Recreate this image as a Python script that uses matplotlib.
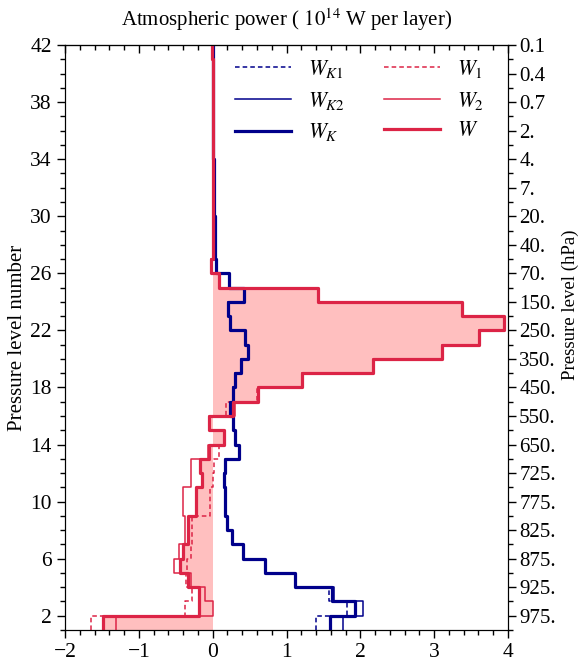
import numpy as np
import matplotlib
matplotlib.use('Agg')
import matplotlib.pyplot as plt
from matplotlib.ticker import MultipleLocator, FixedLocator

plt.rcParams['font.family'] = ['Liberation Serif', 'DejaVu Serif']
plt.rcParams['mathtext.fontset'] = 'stix'

# pressure levels 1..42, values per layer (between level k and k+1)
levels = np.arange(1, 43)
right_ticks = np.arange(2, 43, 2)
hpa_labels = ['975.', '925.', '875.', '825.', '775.', '725.', '650.', '550.', '450.', '350.',
              '250.', '150.', '70.', '40.', '20.', '7.', '4.', '2.', '0.7', '0.4', '0.1']

W_K = [1.59, 1.93, 1.61, 1.12, 0.71, 0.41, 0.26, 0.20, 0.17, 0.17,
       0.16, 0.17, 0.35, 0.30, 0.27, 0.23, 0.27, 0.30, 0.39, 0.48,
       0.44, 0.24, 0.21, 0.42, 0.22, 0.05, 0.03, 0.03, 0.03, 0.02,
       0.02, 0.02, 0.02, 0.01, 0.01, 0.01, 0.01, 0.01, 0.01, 0.01, 0.01]
W_K1 = [1.40, 1.82, 1.58, 1.12, 0.71, 0.41, 0.26, 0.20, 0.17, 0.17,
        0.16, 0.17, 0.35, 0.30, 0.27, 0.23, 0.27, 0.30, 0.39, 0.48,
        0.44, 0.24, 0.21, 0.42, 0.22, 0.05, 0.03, 0.03, 0.03, 0.02,
        0.02, 0.02, 0.02, 0.01, 0.01, 0.01, 0.01, 0.01, 0.01, 0.01, 0.01]
W_K2 = [1.77, 2.04, 1.64, 1.12, 0.71, 0.41, 0.26, 0.20, 0.17, 0.17,
        0.16, 0.17, 0.35, 0.30, 0.27, 0.23, 0.27, 0.30, 0.39, 0.48,
        0.44, 0.24, 0.21, 0.42, 0.22, 0.05, 0.03, 0.03, 0.03, 0.02,
        0.02, 0.02, 0.02, 0.01, 0.01, 0.01, 0.01, 0.01, 0.01, 0.01, 0.01]
W = [-1.48, -0.19, -0.19, -0.33, -0.44, -0.40, -0.33, -0.33, -0.22, -0.22,
     -0.15, -0.17, -0.05, 0.15, -0.05, 0.28, 0.61, 1.21, 2.17, 3.11,
     3.61, 3.95, 3.37, 1.43, 0.08, -0.02, 0.01, 0.00, 0.01, 0.01,
     0.00, 0.00, 0.00, 0.00, 0.00, 0.00, 0.00, 0.00, 0.00, 0.00, -0.01]
W_1 = [-1.65, -0.37, -0.28, -0.36, -0.35, -0.30, -0.28, -0.28, -0.04, -0.04,
       0.00, 0.02, 0.09, 0.15, -0.04, 0.18, 0.60, 1.21, 2.17, 3.11,
       3.61, 3.95, 3.37, 1.43, 0.08, -0.02, 0.01, 0.00, 0.01, 0.01,
       0.00, 0.00, 0.00, 0.00, 0.00, 0.00, 0.00, 0.00, 0.00, 0.00, -0.01]
W_2 = [-1.31, 0.00, -0.10, -0.30, -0.53, -0.45, -0.37, -0.37, -0.40, -0.40,
       -0.29, -0.29, -0.06, 0.15, -0.05, 0.30, 0.62, 1.21, 2.17, 3.11,
       3.61, 3.95, 3.37, 1.43, 0.08, -0.02, 0.01, 0.00, 0.01, 0.01,
       0.00, 0.00, 0.00, 0.00, 0.00, 0.00, 0.00, 0.00, 0.00, 0.00, -0.01]


def profile(vals):
    # vertical step profile: each value spans one layer
    xs = np.repeat(vals, 2)
    ys = np.column_stack([levels[:-1], levels[1:]]).ravel()
    return xs, ys


navy = '#00008b'
red = '#dc2446'
fs = 15

fig = plt.figure(figsize=(5.82, 6.72), dpi=100)
ax = fig.add_axes([0.1117, 0.0625, 0.7612, 0.8705])

xw, yw = profile(W)
ax.fill_betweenx(yw, 0, xw, color='#ffbfbf', lw=0, zorder=1)

x, y = profile(W_K1)
ax.plot(x, y, color=navy, lw=1.1, ls=(0, (3, 2)), label='$W_{K1}$', zorder=3)
x, y = profile(W_K2)
ax.plot(x, y, color=navy, lw=1.1, label='$W_{K2}$', zorder=3)
x, y = profile(W_K)
ax.plot(x, y, color=navy, lw=2.3, label='$W_K$', zorder=4)
x, y = profile(W_1)
ax.plot(x, y, color=red, lw=1.1, ls=(0, (3, 2)), label='$W_1$', zorder=3)
x, y = profile(W_2)
ax.plot(x, y, color=red, lw=1.1, label='$W_2$', zorder=3)
ax.plot(xw, yw, color=red, lw=2.3, label='$W$', zorder=4)

ax.set_xlim(-2, 4)
ax.set_ylim(1, 42)
ax.xaxis.set_major_locator(MultipleLocator(1))
ax.xaxis.set_minor_locator(MultipleLocator(0.2))
ax.yaxis.set_major_locator(FixedLocator(np.arange(2, 43, 4)))
ax.yaxis.set_minor_locator(MultipleLocator(1))
ax.tick_params(labelsize=fs + 0.5, direction='out', length=6, width=1)
ax.tick_params(which='minor', direction='out', length=3.5, width=1)
ax.set_ylabel('Pressure level number', fontsize=fs, labelpad=2)

top = ax.secondary_xaxis('top')
top.xaxis.set_major_locator(MultipleLocator(1))
top.xaxis.set_minor_locator(MultipleLocator(0.2))
top.tick_params(direction='in', length=6, width=1, labeltop=False)
top.tick_params(which='minor', direction='in', length=3.5, width=1)
top.set_xlabel('Atmospheric power ( $10^{14}$ W per layer)', fontsize=fs, labelpad=10)

ax2 = ax.twinx()
ax2.set_ylim(1, 42)
ax2.yaxis.set_major_locator(FixedLocator(right_ticks))
ax2.set_yticklabels(hpa_labels)
ax2.yaxis.set_minor_locator(MultipleLocator(1))
ax2.tick_params(labelsize=fs, direction='out', length=6, width=1, pad=2)
ax2.tick_params(which='minor', direction='out', length=3.5, width=1)
ax2.set_ylabel('Pressure level (hPa)', fontsize=13.5)
ax2.yaxis.set_label_coords(1.12, 0.556)

ax.legend(ncol=2, frameon=False, fontsize=fs + 0.5, loc='upper right',
          bbox_to_anchor=(0.976, 1.0), borderaxespad=0.2, handlelength=2.6,
          handletextpad=0.8, columnspacing=1.8, labelspacing=0.45)

fig.savefig('out.png', dpi=100)
